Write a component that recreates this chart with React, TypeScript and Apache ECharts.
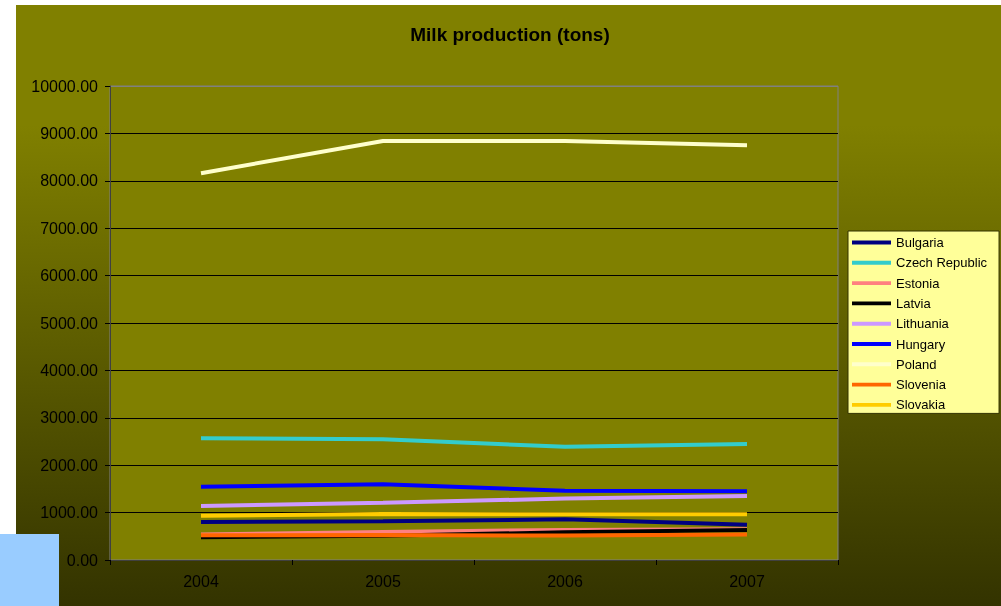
import React, { useEffect, useRef } from "react";
import * as echarts from "echarts";

const years = ["2004", "2005", "2006", "2007"];
const countries = ["Bulgaria", "Czech Republic", "Estonia", "Latvia", "Lithuania", "Hungary", "Poland", "Slovenia", "Slovakia"];
const bulgaria = [800, 815, 860, 745];
const czech = [2570, 2545, 2390, 2445];
const estonia = [540, 590, 635, 650];
const latvia = [480, 510, 585, 635];
const lithuania = [1140, 1210, 1295, 1350];
const hungary = [1545, 1600, 1460, 1450];
const poland = [8160, 8840, 8840, 8750];
const slovenia = [520, 525, 515, 540];
const slovakia = [935, 970, 965, 965];
const colors = ["#000080", "#33CCCC", "#FF8080", "#000000", "#CC99FF", "#0000FF", "#FFFFCC", "#FF6600", "#FFCC00"];
const values = [bulgaria, czech, estonia, latvia, lithuania, hungary, poland, slovenia, slovakia];

const FONT = "'Liberation Sans', Arial, sans-serif";

export default function App() {
  const ref = useRef<HTMLDivElement>(null);
  useEffect(() => {
    if (!ref.current) return;
    const chart = echarts.init(ref.current, null, { renderer: "svg" });
    const splitColors = Array.from({ length: 11 }, (_, i) => (i === 10 ? "#808080" : "#000000"));
    chart.setOption({
      animation: false,
      textStyle: { fontFamily: FONT },
      graphic: [
        {
          type: "rect",
          z: -10,
          silent: true,
          shape: { x: 16, y: 5, width: 985, height: 601 },
          style: {
            fill: new echarts.graphic.LinearGradient(0, 0, 0, 1, [
              { offset: 0, color: "#808000" },
              { offset: 0.2, color: "#808000" },
              { offset: 1, color: "#333300" },
            ]),
          },
        },
        {
          type: "rect",
          z: 100,
          silent: true,
          shape: { x: 0, y: 534, width: 59, height: 72 },
          style: { fill: "#99CCFF" },
        },
        {
          type: "text",
          z: 100,
          x: 510,
          y: 34,
          style: {
            text: "Milk production (tons)",
            fill: "#000",
            font: `bold 19px ${FONT}`,
            textAlign: "center",
            textVerticalAlign: "middle",
          },
        },
      ],
      grid: {
        left: 110,
        right: 163,
        top: 86,
        bottom: 46,
        show: true,
        backgroundColor: "#808000",
        borderColor: "#808080",
        borderWidth: 1,
      },
      legend: {
        orient: "vertical",
        left: 848,
        top: 231,
        data: countries,
        selectedMode: false,
        icon: "path://M0,0H40V4H0Z",
        backgroundColor: "#FFFF99",
        borderColor: "#333300",
        borderWidth: 1,
        padding: [5, 12, 2, 4],
        itemWidth: 39,
        itemHeight: 14,
        itemGap: 7.3,
        textStyle: { fontSize: 13, color: "#000", fontFamily: FONT },
      },
      xAxis: {
        type: "category",
        data: years,
        boundaryGap: true,
        axisLine: { lineStyle: { color: "#404040", width: 1 } },
        axisTick: { show: true, length: 5, lineStyle: { color: "#000" } },
        axisLabel: { fontSize: 16, color: "#000", margin: 13, fontFamily: FONT },
      },
      yAxis: {
        type: "value",
        min: 0,
        max: 10000,
        interval: 1000,
        axisLine: { show: true, lineStyle: { color: "#404040", width: 1 } },
        axisTick: { show: true, length: 5, lineStyle: { color: "#000" } },
        axisLabel: {
          fontSize: 16,
          color: "#000",
          margin: 12,
          fontFamily: FONT,
          formatter: (v: number) => v.toFixed(2),
        },
        splitLine: { show: true, lineStyle: { color: splitColors, width: 1 } },
      },
      series: countries.map((name, i) => ({
        name,
        type: "line",
        data: values[i],
        symbol: "none",
        showSymbol: false,
        color: colors[i],
        lineStyle: { color: colors[i], width: 4 },
        itemStyle: { color: colors[i] },
      })),
    });
    return () => chart.dispose();
  }, []);
  return <div ref={ref} style={{ position: "fixed", left: 0, top: 0, width: 1001, height: 606 }} />;
}
